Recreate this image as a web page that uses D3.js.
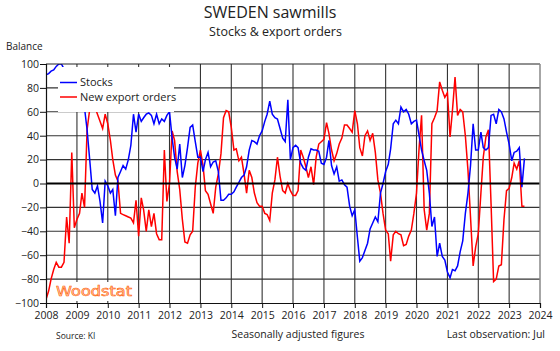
<!DOCTYPE html>
<html>
<head>
<meta charset="utf-8">
<script src="https://cdn.jsdelivr.net/npm/d3@7"></script>
<style>
  body { margin: 0; background: #fff; }
  text { font-family: "Open Sans", sans-serif; fill: #222; }
</style>
</head>
<body>
<script>
// Data: monthly balances, Jan 2008 - Jul 2023
const years = d3.range(2008, 2025);
const yTicks = d3.range(-100, 101, 20);

const stocks = [
  91, 92, 94, 95, 98, 100, 100, 96, 92, 88, 84, 80,          // 2008
  76, 72, 68, 63, 45, 20, -5, -8, -2, -15, -33, 2,           // 2009
  -2, -8, -5, -27, 5, 10, 15, 12, 20, 32, 58, 43,            // 2010
  58, 52, 55, 58, 59, 57, 50, 58, 50, 54, 52, 57,            // 2011
  60, 38, 22, 12, 33, 5, 15, 30, 47, 49, 35, 22,             // 2012
  22, 10, 20, 26, 14, 18, 19, 10, -14, -14, -12, -9,         // 2013
  -9, -7, -3, 1, 5, 7, 14, 28, 36, 35, 33, 40,               // 2014
  44, 52, 58, 69, 58, 55, 54, 46, 38, 35, 70, 20,            // 2015
  30, 32, 30, 17, 13, 11, 22, 29, 28, 28, 27, 17,            // 2016
  16, 22, 36, 15, 8, 14, 2, 3, -1, -3, -19, -27,             // 2017
  -22, -45, -65, -62, -56, -50, -38, -33, -28, -32, -8, 0,   // 2018
  10, 16, 29, 50, 53, 50, 64, 60, 62, 58, 50, 52,            // 2019
  53, 40, 28, 19, 11, -8, -36, -28, -61, -50, -61, -64,      // 2020
  -74, -79, -72, -73, -69, -57, -48, -25, -8, 15, 50, 28,    // 2021
  28, 43, 30, 28, 30, 57, 58, 50, 62, 60, 54, 43,            // 2022
  33, 19, 26, 27, 30, -3, 21                                 // 2023
];

const exportOrders = [
  -97, -90, -80, -72, -66, -70, -70, -66, -28, -50, 26, -37, // 2008
  -30, -25, -8, -20, 45, 62, 66, 64, 58, 52, 46, 58,         // 2009
  50, 36, 20, 7, 2, -25, -26, -27, -28, -29, -33, -14,       // 2010
  -44, -12, -22, -40, -22, -36, -25, -42, -47, -47, 28, -15, // 2011
  0, 44, 36, 10, -5, -30, -49, -50, -43, -40, -3, 17,        // 2012
  28, 15, -6, -9, -17, -25, -3, 8, 25, 55, 61, 60,           // 2013
  47, 28, 29, 19, 22, 8, -8, 11, 5, -8, -16, -19,            // 2014
  -19, -25, -26, -31, -8, 3, 22, 6, -6, -8, 0, -6,           // 2015
  -10, -10, -6, 28, 22, 14, 5, 14, -1, 22, 33, 35,           // 2016
  37, 51, 42, 28, 19, 25, 33, 38, 49, 49, 46, 43,            // 2017
  61, 50, 30, 23, 40, 44, 36, 42, 26, 3, -8, -25,            // 2018
  -39, -42, -65, -43, -40, -42, -43, -52, -51, -44, -39, -25,// 2019
  -8, 30, 57, -22, -39, -25, 50, 55, 61, 85, 78, 72,         // 2020
  76, 39, 61, 89, 57, 62, 60, 40, 11, -28, -69, -53,         // 2021
  -42, -8, 22, 39, 45, -17, -82, -80, -69, -68, -30, -6,     // 2022
  -4, 5, 17, 12, 19, -19, -19                                // 2023
];

const svg = d3.select('body')
              .append('svg')
              .attr('width', 560)
              .attr('height', 351)
              .style('background', '#fff');

// Dimensions
const margin = {top: 64, right: 20, bottom: 48, left: 46};
const graphWidth = 560 - margin.left - margin.right;
const graphHeight = 351 - margin.top - margin.bottom;

const graph = svg.append('g')
                 .attr('transform', `translate(${margin.left}, ${margin.top})`);

// Scales
const x = d3.scaleTime()
            .domain([new Date(2008, 0, 1), new Date(2024, 0, 1)])
            .range([0, graphWidth]);
const y = d3.scaleLinear()
            .domain([-100, 100])
            .range([graphHeight, 0]);

const monthDate = i => new Date(2008, i, 1);

// Grid
graph.append('g')
     .selectAll('line')
     .data(years.slice(1, -1))
     .enter().append('line')
     .attr('x1', d => x(new Date(d, 0, 1))).attr('x2', d => x(new Date(d, 0, 1)))
     .attr('y1', 0).attr('y2', graphHeight)
     .attr('stroke', '#333').attr('stroke-width', 1.1);

graph.append('g')
     .selectAll('line')
     .data(yTicks.filter(d => d > -100 && d < 100 && d !== 0))
     .enter().append('line')
     .attr('x1', 0).attr('x2', graphWidth)
     .attr('y1', d => y(d)).attr('y2', d => y(d))
     .attr('stroke', '#333').attr('stroke-width', 1.1);

// Lines
svg.append('clipPath').attr('id', 'plot')
   .append('rect').attr('width', graphWidth).attr('height', graphHeight);

const line = d3.line()
               .x((d, i) => x(monthDate(i)))
               .y(d => y(d));

const lines = graph.append('g').attr('clip-path', 'url(#plot)');
lines.append('path').datum(exportOrders)
     .attr('d', line).attr('fill', 'none')
     .attr('stroke', '#ff0000').attr('stroke-width', 1.5);
lines.append('path').datum(stocks)
     .attr('d', line).attr('fill', 'none')
     .attr('stroke', '#0000ff').attr('stroke-width', 1.5);

// Zero line
graph.append('line')
     .attr('x1', 0).attr('x2', graphWidth)
     .attr('y1', y(0)).attr('y2', y(0))
     .attr('stroke', '#000').attr('stroke-width', 2);

// Frame
graph.append('line').attr('x1', 0).attr('x2', graphWidth).attr('y1', 0).attr('y2', 0)
     .attr('stroke', '#222');
graph.append('line').attr('x1', graphWidth).attr('x2', graphWidth).attr('y1', 0).attr('y2', graphHeight)
     .attr('stroke', '#888').attr('stroke-width', 1.5);

// Axes
const axeX = d3.axisBottom(x)
               .tickValues(years.map(d => new Date(d, 0, 1)))
               .tickFormat(d3.timeFormat('%Y'))
               .tickSize(5).tickPadding(4);
const axeY = d3.axisLeft(y)
               .tickValues(yTicks)
               .tickSize(6).tickPadding(1);

const groupeX = graph.append('g')
                     .attr('transform', `translate(0, ${graphHeight})`)
                     .call(axeX);
const groupeY = graph.append('g').call(axeY);

[groupeX, groupeY].forEach(g => {
  g.selectAll('path').attr('stroke', '#111').attr('stroke-width', 1.2);
  g.selectAll('line').attr('stroke', '#111');
  g.selectAll('text').style('font-family', '"Open Sans", sans-serif')
   .style('font-size', '10.5px').attr('fill', '#333');
});

// Legend
graph.append('rect')
     .attr('x', 12).attr('y', 3).attr('width', 116).attr('height', 45)
     .attr('fill', '#fff');
const legend = [
  {name: 'Stocks', color: '#0000ff'},
  {name: 'New export orders', color: '#ff0000'}
];
const leg = graph.selectAll('.leg').data(legend).enter().append('g')
                 .attr('transform', (d, i) => `translate(14, ${18.5 + i * 14.5})`);
leg.append('line').attr('x1', 0).attr('x2', 17)
   .attr('stroke', d => d.color).attr('stroke-width', 1.5);
leg.append('text').attr('x', 20).attr('dy', '0.35em')
   .style('font-size', '11px').attr('fill', '#333')
   .text(d => d.name);

// Woodstat logo
graph.append('rect')
     .attr('x', 8).attr('y', 218).attr('width', 80).attr('height', 19)
     .attr('fill', '#fff');
graph.append('text')
     .attr('x', 10).attr('y', 231.5)
     .attr('textLength', 76).attr('lengthAdjust', 'spacingAndGlyphs')
     .style('font-family', '"DejaVu Sans", sans-serif')
     .style('font-size', '13.5px')
     .style('fill', '#ffd0b0').style('stroke', '#ff5a00').style('stroke-width', 0.55)
     .text('Woodstat');

// Titles
svg.append('text').attr('x', 270).attr('y', 17.5).attr('text-anchor', 'middle')
   .style('font-size', '16px').text('SWEDEN sawmills');
svg.append('text').attr('x', 275.5).attr('y', 35.5).attr('text-anchor', 'middle')
   .style('font-size', '12.5px').text('Stocks & export orders');
svg.append('text').attr('x', 6).attr('y', 50)
   .style('font-size', '10px').text('Balance');

svg.append('text').attr('x', 56).attr('y', 339)
   .style('font-size', '8.5px').attr('fill', '#333').text('Source: KI');
svg.append('text').attr('x', 298).attr('y', 338).attr('text-anchor', 'middle')
   .style('font-size', '10.5px').text('Seasonally adjusted figures');
svg.append('text').attr('x', 545).attr('y', 338).attr('text-anchor', 'end')
   .style('font-size', '10.5px').text('Last observation: Jul');
</script>
</body>
</html>
